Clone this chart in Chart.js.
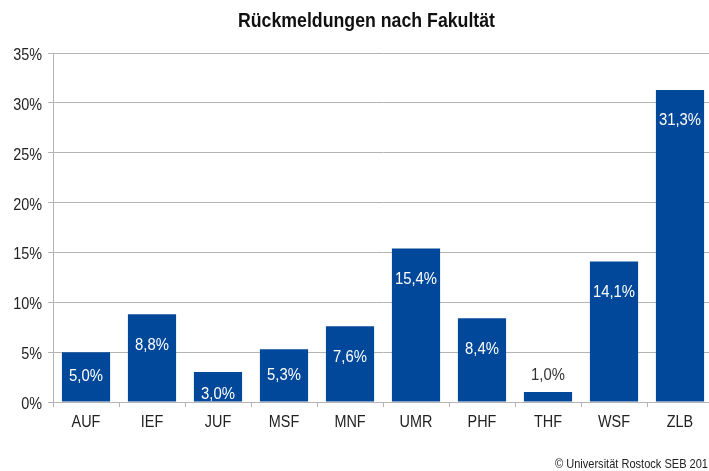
<!DOCTYPE html>
<html>
<head>
<meta charset="utf-8">
<script src="https://cdn.jsdelivr.net/npm/chart.js@4.4.1/dist/chart.umd.min.js"></script>
<style>
  html, body { margin: 0; padding: 0; background: #fff; overflow: hidden; }
  #wrap { width: 714px; height: 471px; }
</style>
</head>
<body>
<div id="wrap"><canvas id="c" width="714" height="471"></canvas></div>
<script>
const categories = ['AUF', 'IEF', 'JUF', 'MSF', 'MNF', 'UMR', 'PHF', 'THF', 'WSF', 'ZLB'];
const shares = [5.0, 8.8, 3.0, 5.3, 7.6, 15.4, 8.4, 1.0, 14.1, 31.3];
const yTicks = [0, 5, 10, 15, 20, 25, 30, 35];
const titleText = 'Rückmeldungen nach Fakultät';
const footerText = '© Universität Rostock SEB 201';

const FONT = '"Liberation Sans", Arial, sans-serif';
const BAR = '#02489a';
const GRID = '#b4b4b4';
const TEXT = '#222';

const fmt = v => v.toFixed(1).replace('.', ',') + '%';

// draw horizontally condensed text (Arial Narrow look)
function narrowText(ctx, txt, x, y, font, sx, align, baseline, color) {
  ctx.save();
  ctx.font = font;
  ctx.fillStyle = color;
  ctx.textAlign = align;
  ctx.textBaseline = baseline;
  ctx.translate(x, y);
  ctx.scale(sx, 1);
  ctx.fillText(txt, 0, 0);
  ctx.restore();
}

const textPlugin = {
  id: 'textPlugin',
  afterDatasetsDraw(chart) {
    const ctx = chart.ctx;
    const meta = chart.getDatasetMeta(0);
    const f = '16.5px ' + FONT;
    meta.data.forEach((bar, i) => {
      const h = bar.base - bar.y;
      const txt = fmt(shares[i]);
      if (h < 20) {
        narrowText(ctx, txt, bar.x, bar.y - 17, f, 0.9, 'center', 'middle', '#333');
      } else {
        const off = Math.min(31, Math.max(22, h / 2));
        narrowText(ctx, txt, bar.x, bar.y + off, f, 0.9, 'center', 'middle', '#fff');
      }
    });
  },
  afterDraw(chart) {
    const ctx = chart.ctx;
    const xs = chart.scales.x, ys = chart.scales.y;
    yTicks.forEach(v => {
      const y = ys.getPixelForValue(v);
      narrowText(ctx, v + '%', 42, y + 7, '16px ' + FONT, 0.9, 'right', 'alphabetic', TEXT);
    });
    categories.forEach((c, i) => {
      const x = xs.getPixelForValue(i);
      narrowText(ctx, c, x, 427, '16px ' + FONT, 0.9, 'center', 'alphabetic', TEXT);
    });
    ctx.save();
    ctx.font = 'bold 20px ' + FONT;
    const tw = ctx.measureText(titleText).width;
    ctx.restore();
    narrowText(ctx, titleText, 366.5, 27, 'bold 20px ' + FONT, 257 / tw, 'center', 'alphabetic', '#111');
    ctx.save();
    ctx.font = '13.5px ' + FONT;
    const fw = ctx.measureText(footerText).width;
    ctx.restore();
    narrowText(ctx, footerText, 708, 468, '13.5px ' + FONT, 153 / fw, 'right', 'alphabetic', TEXT);
  }
};

new Chart(document.getElementById('c'), {
  type: 'bar',
  data: {
    labels: categories,
    datasets: [{
      data: shares,
      backgroundColor: BAR,
      borderWidth: 0,
      barPercentage: 0.73,
      categoryPercentage: 1.0
    }]
  },
  options: {
    responsive: false,
    animation: false,
    layout: { padding: { left: 0, right: 1, top: 53, bottom: 0 } },
    plugins: {
      legend: { display: false },
      tooltip: { enabled: false },
      title: { display: false }
    },
    scales: {
      x: {
        grid: {
          offset: true,
          drawOnChartArea: false,
          drawTicks: true,
          tickLength: 5,
          color: GRID
        },
        border: { display: true, color: GRID, width: 1 },
        ticks: {
          color: 'rgba(0,0,0,0)',
          font: { family: FONT, size: 15 },
          padding: 4,
          maxRotation: 0
        },
        afterFit(scale) { scale.height = 69; }
      },
      y: {
        min: 0,
        max: 35,
        afterBuildTicks(scale) { scale.ticks = yTicks.map(v => ({ value: v })); },
        grid: {
          color: GRID,
          drawTicks: true,
          tickLength: 5
        },
        border: { display: true, color: GRID, width: 1 },
        ticks: {
          color: 'rgba(0,0,0,0)',
          font: { family: FONT, size: 14 },
          padding: 6,
          callback: v => v + '%'
        },
        afterFit(scale) { scale.width = 53; }
      }
    }
  },
  plugins: [textPlugin]
});
</script>
</body>
</html>
